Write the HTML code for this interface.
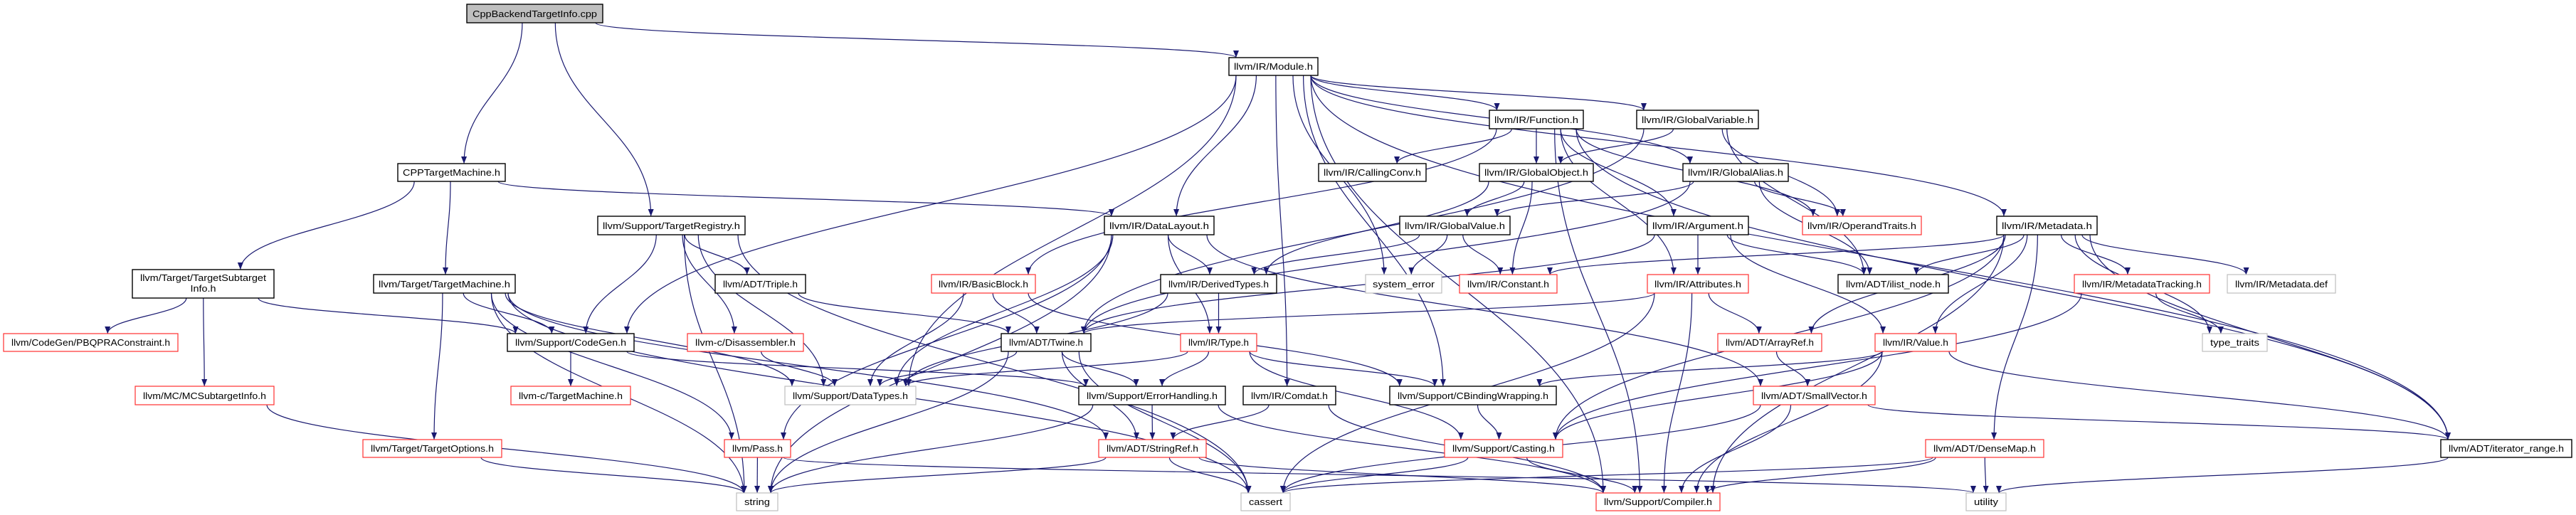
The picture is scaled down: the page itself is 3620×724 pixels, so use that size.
<!DOCTYPE html>
<html><head><meta charset="utf-8">
<style>
html,body{margin:0;padding:0;background:#fff;}
svg{display:block;}
text{font-family:"Liberation Sans",sans-serif;font-size:13px;fill:#000;}
</style></head>
<body>
<svg id="g" width="3620" height="724" xmlns="http://www.w3.org/2000/svg">
<defs>
<marker id="ah" viewBox="0 0 10 10" refX="10" refY="5" markerWidth="10" markerHeight="10" markerUnits="userSpaceOnUse" orient="auto">
<path d="M0,1 L10,5 L0,9 z" fill="#191970"/>
</marker>
</defs>
<g id="edges"></g>
<g id="nodes">
<rect x="656" y="6" width="191" height="26" fill="#bfbfbf" stroke="#000" stroke-width="1.4"/><text x="751.5" y="24" text-anchor="middle" textLength="175" lengthAdjust="spacingAndGlyphs">CppBackendTargetInfo.cpp</text>
<rect x="1727" y="81" width="125" height="25" fill="#fff" stroke="#000" stroke-width="1.4"/><text x="1789.5" y="98" text-anchor="middle" textLength="111" lengthAdjust="spacingAndGlyphs">llvm/IR/Module.h</text>
<rect x="2093" y="155" width="132" height="26" fill="#fff" stroke="#000" stroke-width="1.4"/><text x="2159" y="173" text-anchor="middle" textLength="118" lengthAdjust="spacingAndGlyphs">llvm/IR/Function.h</text>
<rect x="2300" y="155" width="171" height="26" fill="#fff" stroke="#000" stroke-width="1.4"/><text x="2385.5" y="173" text-anchor="middle" textLength="157" lengthAdjust="spacingAndGlyphs">llvm/IR/GlobalVariable.h</text>
<rect x="559" y="230" width="151" height="25" fill="#fff" stroke="#000" stroke-width="1.4"/><text x="634.5" y="247" text-anchor="middle" textLength="137" lengthAdjust="spacingAndGlyphs">CPPTargetMachine.h</text>
<rect x="1853" y="230" width="151" height="25" fill="#fff" stroke="#000" stroke-width="1.4"/><text x="1928.5" y="247" text-anchor="middle" textLength="137" lengthAdjust="spacingAndGlyphs">llvm/IR/CallingConv.h</text>
<rect x="2079" y="230" width="160" height="25" fill="#fff" stroke="#000" stroke-width="1.4"/><text x="2159" y="247" text-anchor="middle" textLength="146" lengthAdjust="spacingAndGlyphs">llvm/IR/GlobalObject.h</text>
<rect x="2365" y="230" width="148" height="25" fill="#fff" stroke="#000" stroke-width="1.4"/><text x="2439" y="247" text-anchor="middle" textLength="134" lengthAdjust="spacingAndGlyphs">llvm/IR/GlobalAlias.h</text>
<rect x="840" y="304" width="207" height="26" fill="#fff" stroke="#000" stroke-width="1.4"/><text x="943.5" y="322" text-anchor="middle" textLength="193" lengthAdjust="spacingAndGlyphs">llvm/Support/TargetRegistry.h</text>
<rect x="1552" y="304" width="154" height="26" fill="#fff" stroke="#000" stroke-width="1.4"/><text x="1629" y="322" text-anchor="middle" textLength="140" lengthAdjust="spacingAndGlyphs">llvm/IR/DataLayout.h</text>
<rect x="1967" y="304" width="155" height="26" fill="#fff" stroke="#000" stroke-width="1.4"/><text x="2044.5" y="322" text-anchor="middle" textLength="141" lengthAdjust="spacingAndGlyphs">llvm/IR/GlobalValue.h</text>
<rect x="2315" y="304" width="142" height="26" fill="#fff" stroke="#000" stroke-width="1.4"/><text x="2386" y="322" text-anchor="middle" textLength="128" lengthAdjust="spacingAndGlyphs">llvm/IR/Argument.h</text>
<rect x="2533" y="304" width="167" height="26" fill="#fff" stroke="#ff3030" stroke-width="1.2"/><text x="2616.5" y="322" text-anchor="middle" textLength="153" lengthAdjust="spacingAndGlyphs">llvm/IR/OperandTraits.h</text>
<rect x="2806" y="304" width="141" height="26" fill="#fff" stroke="#000" stroke-width="1.4"/><text x="2876.5" y="322" text-anchor="middle" textLength="127" lengthAdjust="spacingAndGlyphs">llvm/IR/Metadata.h</text>
<rect x="186" y="379" width="199" height="40" fill="#fff" stroke="#000" stroke-width="1.4"/><text x="285.5" y="395" text-anchor="middle" textLength="177" lengthAdjust="spacingAndGlyphs">llvm/Target/TargetSubtarget</text><text x="285.5" y="410" text-anchor="middle" textLength="36" lengthAdjust="spacingAndGlyphs">Info.h</text>
<rect x="525" y="386" width="199" height="26" fill="#fff" stroke="#000" stroke-width="1.4"/><text x="624.5" y="404" text-anchor="middle" textLength="185" lengthAdjust="spacingAndGlyphs">llvm/Target/TargetMachine.h</text>
<rect x="1005" y="386" width="127" height="26" fill="#fff" stroke="#000" stroke-width="1.4"/><text x="1068.5" y="404" text-anchor="middle" textLength="105" lengthAdjust="spacingAndGlyphs">llvm/ADT/Triple.h</text>
<rect x="1309" y="386" width="146" height="26" fill="#fff" stroke="#ff3030" stroke-width="1.2"/><text x="1382" y="404" text-anchor="middle" textLength="126" lengthAdjust="spacingAndGlyphs">llvm/IR/BasicBlock.h</text>
<rect x="1631" y="386" width="163" height="26" fill="#fff" stroke="#000" stroke-width="1.4"/><text x="1712.5" y="404" text-anchor="middle" textLength="141" lengthAdjust="spacingAndGlyphs">llvm/IR/DerivedTypes.h</text>
<rect x="1919" y="386" width="107" height="26" fill="#fff" stroke="#bfbfbf" stroke-width="1.2"/><text x="1972.5" y="404" text-anchor="middle" textLength="87" lengthAdjust="spacingAndGlyphs">system_error</text>
<rect x="2051" y="386" width="137" height="26" fill="#fff" stroke="#ff3030" stroke-width="1.2"/><text x="2119.5" y="404" text-anchor="middle" textLength="115" lengthAdjust="spacingAndGlyphs">llvm/IR/Constant.h</text>
<rect x="2315" y="386" width="142" height="26" fill="#fff" stroke="#ff3030" stroke-width="1.2"/><text x="2386" y="404" text-anchor="middle" textLength="122" lengthAdjust="spacingAndGlyphs">llvm/IR/Attributes.h</text>
<rect x="2583" y="386" width="155" height="26" fill="#fff" stroke="#000" stroke-width="1.4"/><text x="2660.5" y="404" text-anchor="middle" textLength="133" lengthAdjust="spacingAndGlyphs">llvm/ADT/ilist_node.h</text>
<rect x="2915" y="386" width="190" height="26" fill="#fff" stroke="#ff3030" stroke-width="1.2"/><text x="3010" y="404" text-anchor="middle" textLength="168" lengthAdjust="spacingAndGlyphs">llvm/IR/MetadataTracking.h</text>
<rect x="3130" y="386" width="152" height="26" fill="#fff" stroke="#bfbfbf" stroke-width="1.2"/><text x="3206" y="404" text-anchor="middle" textLength="130" lengthAdjust="spacingAndGlyphs">llvm/IR/Metadata.def</text>
<rect x="5" y="469" width="245" height="25" fill="#fff" stroke="#ff3030" stroke-width="1.2"/><text x="127.5" y="486" text-anchor="middle" textLength="223" lengthAdjust="spacingAndGlyphs">llvm/CodeGen/PBQPRAConstraint.h</text>
<rect x="713" y="469" width="178" height="25" fill="#fff" stroke="#000" stroke-width="1.4"/><text x="802" y="486" text-anchor="middle" textLength="156" lengthAdjust="spacingAndGlyphs">llvm/Support/CodeGen.h</text>
<rect x="966" y="469" width="163" height="25" fill="#fff" stroke="#ff3030" stroke-width="1.2"/><text x="1047.5" y="486" text-anchor="middle" textLength="141" lengthAdjust="spacingAndGlyphs">llvm-c/Disassembler.h</text>
<rect x="1407" y="469" width="126" height="25" fill="#fff" stroke="#000" stroke-width="1.4"/><text x="1470" y="486" text-anchor="middle" textLength="104" lengthAdjust="spacingAndGlyphs">llvm/ADT/Twine.h</text>
<rect x="1659" y="469" width="107" height="25" fill="#fff" stroke="#ff3030" stroke-width="1.2"/><text x="1712.5" y="486" text-anchor="middle" textLength="85" lengthAdjust="spacingAndGlyphs">llvm/IR/Type.h</text>
<rect x="2414" y="469" width="146" height="25" fill="#fff" stroke="#ff3030" stroke-width="1.2"/><text x="2487" y="486" text-anchor="middle" textLength="124" lengthAdjust="spacingAndGlyphs">llvm/ADT/ArrayRef.h</text>
<rect x="2635" y="469" width="114" height="25" fill="#fff" stroke="#ff3030" stroke-width="1.2"/><text x="2692" y="486" text-anchor="middle" textLength="92" lengthAdjust="spacingAndGlyphs">llvm/IR/Value.h</text>
<rect x="3095" y="469" width="91" height="25" fill="#fff" stroke="#bfbfbf" stroke-width="1.2"/><text x="3140.5" y="486" text-anchor="middle" textLength="69" lengthAdjust="spacingAndGlyphs">type_traits</text>
<rect x="190" y="543" width="195" height="26" fill="#fff" stroke="#ff3030" stroke-width="1.2"/><text x="287.5" y="561" text-anchor="middle" textLength="173" lengthAdjust="spacingAndGlyphs">llvm/MC/MCSubtargetInfo.h</text>
<rect x="718" y="543" width="168" height="26" fill="#fff" stroke="#ff3030" stroke-width="1.2"/><text x="802" y="561" text-anchor="middle" textLength="146" lengthAdjust="spacingAndGlyphs">llvm-c/TargetMachine.h</text>
<rect x="1103" y="543" width="184" height="26" fill="#fff" stroke="#bfbfbf" stroke-width="1.2"/><text x="1195" y="561" text-anchor="middle" textLength="162" lengthAdjust="spacingAndGlyphs">llvm/Support/DataTypes.h</text>
<rect x="1516" y="543" width="206" height="26" fill="#fff" stroke="#000" stroke-width="1.4"/><text x="1619" y="561" text-anchor="middle" textLength="184" lengthAdjust="spacingAndGlyphs">llvm/Support/ErrorHandling.h</text>
<rect x="1747" y="543" width="130" height="26" fill="#fff" stroke="#000" stroke-width="1.4"/><text x="1812" y="561" text-anchor="middle" textLength="108" lengthAdjust="spacingAndGlyphs">llvm/IR/Comdat.h</text>
<rect x="1953" y="543" width="234" height="26" fill="#fff" stroke="#000" stroke-width="1.4"/><text x="2070" y="561" text-anchor="middle" textLength="212" lengthAdjust="spacingAndGlyphs">llvm/Support/CBindingWrapping.h</text>
<rect x="2464" y="543" width="171" height="26" fill="#fff" stroke="#ff3030" stroke-width="1.2"/><text x="2549.5" y="561" text-anchor="middle" textLength="149" lengthAdjust="spacingAndGlyphs">llvm/ADT/SmallVector.h</text>
<rect x="510" y="618" width="195" height="25" fill="#fff" stroke="#ff3030" stroke-width="1.2"/><text x="607.5" y="635" text-anchor="middle" textLength="173" lengthAdjust="spacingAndGlyphs">llvm/Target/TargetOptions.h</text>
<rect x="1018" y="618" width="93" height="25" fill="#fff" stroke="#ff3030" stroke-width="1.2"/><text x="1064.5" y="635" text-anchor="middle" textLength="71" lengthAdjust="spacingAndGlyphs">llvm/Pass.h</text>
<rect x="1544" y="618" width="151" height="25" fill="#fff" stroke="#ff3030" stroke-width="1.2"/><text x="1619.5" y="635" text-anchor="middle" textLength="129" lengthAdjust="spacingAndGlyphs">llvm/ADT/StringRef.h</text>
<rect x="2030" y="618" width="166" height="25" fill="#fff" stroke="#ff3030" stroke-width="1.2"/><text x="2113" y="635" text-anchor="middle" textLength="144" lengthAdjust="spacingAndGlyphs">llvm/Support/Casting.h</text>
<rect x="2706" y="618" width="166" height="25" fill="#fff" stroke="#ff3030" stroke-width="1.2"/><text x="2789" y="635" text-anchor="middle" textLength="144" lengthAdjust="spacingAndGlyphs">llvm/ADT/DenseMap.h</text>
<rect x="3430" y="618" width="184" height="25" fill="#fff" stroke="#000" stroke-width="1.4"/><text x="3522" y="635" text-anchor="middle" textLength="162" lengthAdjust="spacingAndGlyphs">llvm/ADT/iterator_range.h</text>
<rect x="1035" y="693" width="58" height="25" fill="#fff" stroke="#bfbfbf" stroke-width="1.2"/><text x="1064" y="710" text-anchor="middle" textLength="36" lengthAdjust="spacingAndGlyphs">string</text>
<rect x="1744" y="693" width="69" height="25" fill="#fff" stroke="#bfbfbf" stroke-width="1.2"/><text x="1778.5" y="710" text-anchor="middle" textLength="47" lengthAdjust="spacingAndGlyphs">cassert</text>
<rect x="2243" y="693" width="174" height="25" fill="#fff" stroke="#ff3030" stroke-width="1.2"/><text x="2330" y="710" text-anchor="middle" textLength="152" lengthAdjust="spacingAndGlyphs">llvm/Support/Compiler.h</text>
<rect x="2763" y="693" width="56" height="25" fill="#fff" stroke="#bfbfbf" stroke-width="1.2"/><text x="2791" y="710" text-anchor="middle" textLength="34" lengthAdjust="spacingAndGlyphs">utility</text>
</g>
</svg>
<script>
var N={
cpp:[656,847,6,32],module:[1727,1852,81,106],func:[2093,2225,155,181],gvar:[2300,2471,155,181],
cpptm:[559,710,230,255],cc:[1853,2004,230,255],gobj:[2079,2239,230,255],galias:[2365,2513,230,255],
treg:[840,1047,304,330],dl:[1552,1706,304,330],gval:[1967,2122,304,330],arg:[2315,2457,304,330],opt:[2533,2700,304,330],md:[2806,2947,304,330],
tsi:[186,385,379,419],tm:[525,724,386,412],triple:[1005,1132,386,412],bb:[1309,1455,386,412],dt:[1631,1794,386,412],se:[1919,2026,386,412],
con:[2051,2188,386,412],attr:[2315,2457,386,412],ilist:[2583,2738,386,412],mdt:[2915,3105,386,412],mdd:[3130,3282,386,412],
pbqp:[5,250,469,494],cg:[713,891,469,494],dis:[966,1129,469,494],twine:[1407,1533,469,494],type:[1659,1766,469,494],ar:[2414,2560,469,494],val:[2635,2749,469,494],tt:[3095,3186,469,494],
mcsti:[190,385,543,569],ctm:[718,886,543,569],dtypes:[1103,1287,543,569],eh:[1516,1722,543,569],comdat:[1747,1877,543,569],cbw:[1953,2187,543,569],sv:[2464,2635,543,569],
topts:[510,705,618,643],pass:[1018,1111,618,643],sr:[1544,1695,618,643],cast:[2030,2196,618,643],dm:[2706,2872,618,643],ir:[3430,3614,618,643],
str:[1035,1093,693,718],cas:[1744,1813,693,718],comp:[2243,2417,693,718],util:[2763,2819,693,718]};
var E=[
"cpp cpptm","cpp treg","cpp module",
"cpptm tsi","cpptm tm","cpptm dl",
"treg cg","treg triple","treg dis","treg dtypes","treg str","treg cas",
"module cg","module dtypes","module comdat","module dl","module func","module gvar","module galias","module md","module ir","module se","module cbw","module comp",
"tsi pbqp","tsi mcsti","tsi cg","mcsti str",
"tm cg","tm topts","tm pass","tm sr","tm str","tm cas","tm dtypes","topts str",
"cg ctm","cg eh",
"dl dt","dl type","dl dtypes","dl pass","dl sv","dl str",
"func cc","func gobj","func arg","func attr","func bb","func ir","func comp","func opt",
"gvar gobj","gvar opt","gvar ilist","gvar twine",
"gobj gval","gobj con","gobj dt",
"galias gval","galias ilist","galias opt","galias twine",
"gval dt","gval con","gval se",
"arg attr","arg ilist","arg twine","arg val",
"md con","md ilist","md mdt","md mdd","md tt","md dm","md ir","md val","md ar","md comp","md cast",
"mdt tt","mdt cast",
"triple twine","bb twine","bb dtypes","bb cbw",
"dt type","dt dtypes","dis dtypes",
"twine dtypes","twine eh","twine sr","twine str","twine cas",
"type dtypes","type eh","type cbw","type cast",
"attr ar","attr comp","attr cas","attr twine",
"ar sv","val cbw","val cast","val comp","val ir",
"eh sr","eh str","eh comp","comdat sr","comdat comp","cbw cast",
"sv cas","sv comp","sv ir","pass str","pass util",
"sr str","sr cas","sr comp","cast cas","cast comp",
"dm util","dm cas","dm comp","ir util"];
function clip(b,cx,cy,dx,dy){var hw=(b[1]-b[0])/2,hh=(b[3]-b[2])/2;var t=Math.min(dx?hw/Math.abs(dx):1e9,dy?hh/Math.abs(dy):1e9);return [cx+dx*t,cy+dy*t];}
function cl(v,a,b){return Math.max(a,Math.min(b,v));}
var g=document.getElementById('edges'),s='';
E.forEach(function(e){var p=e.split(' '),a=N[p[0]],b=N[p[1]];if(!a||!b)return;
var ax=(a[0]+a[1])/2,ay=(a[2]+a[3])/2,bx=(b[0]+b[1])/2,by=(b[2]+b[3])/2;
var dx=bx-ax,dy=by-ay;
if(dy>30){
 var sx=cl(ax+dx*0.15,a[0]+10,a[1]-10),sy=a[3];
 var ex=cl(bx-dx*0.15,b[0]+10,b[1]-10),ey=b[2];
 var h=(ey-sy)*0.45;
 s+='<path d="M'+sx+','+sy+' C'+sx+','+(sy+h)+' '+ex+','+(ey-h)+' '+ex+','+ey+'" fill="none" stroke="#191970" stroke-width="1.2" marker-end="url(#ah)"/>';
}else{
 var s1=clip(a,ax,ay,dx,dy),s2=clip(b,bx,by,-dx,-dy);
 s+='<line x1="'+s1[0]+'" y1="'+s1[1]+'" x2="'+s2[0]+'" y2="'+s2[1]+'" stroke="#191970" stroke-width="1.2" marker-end="url(#ah)"/>';
}});
g.innerHTML=s;
</script>
</body></html>
